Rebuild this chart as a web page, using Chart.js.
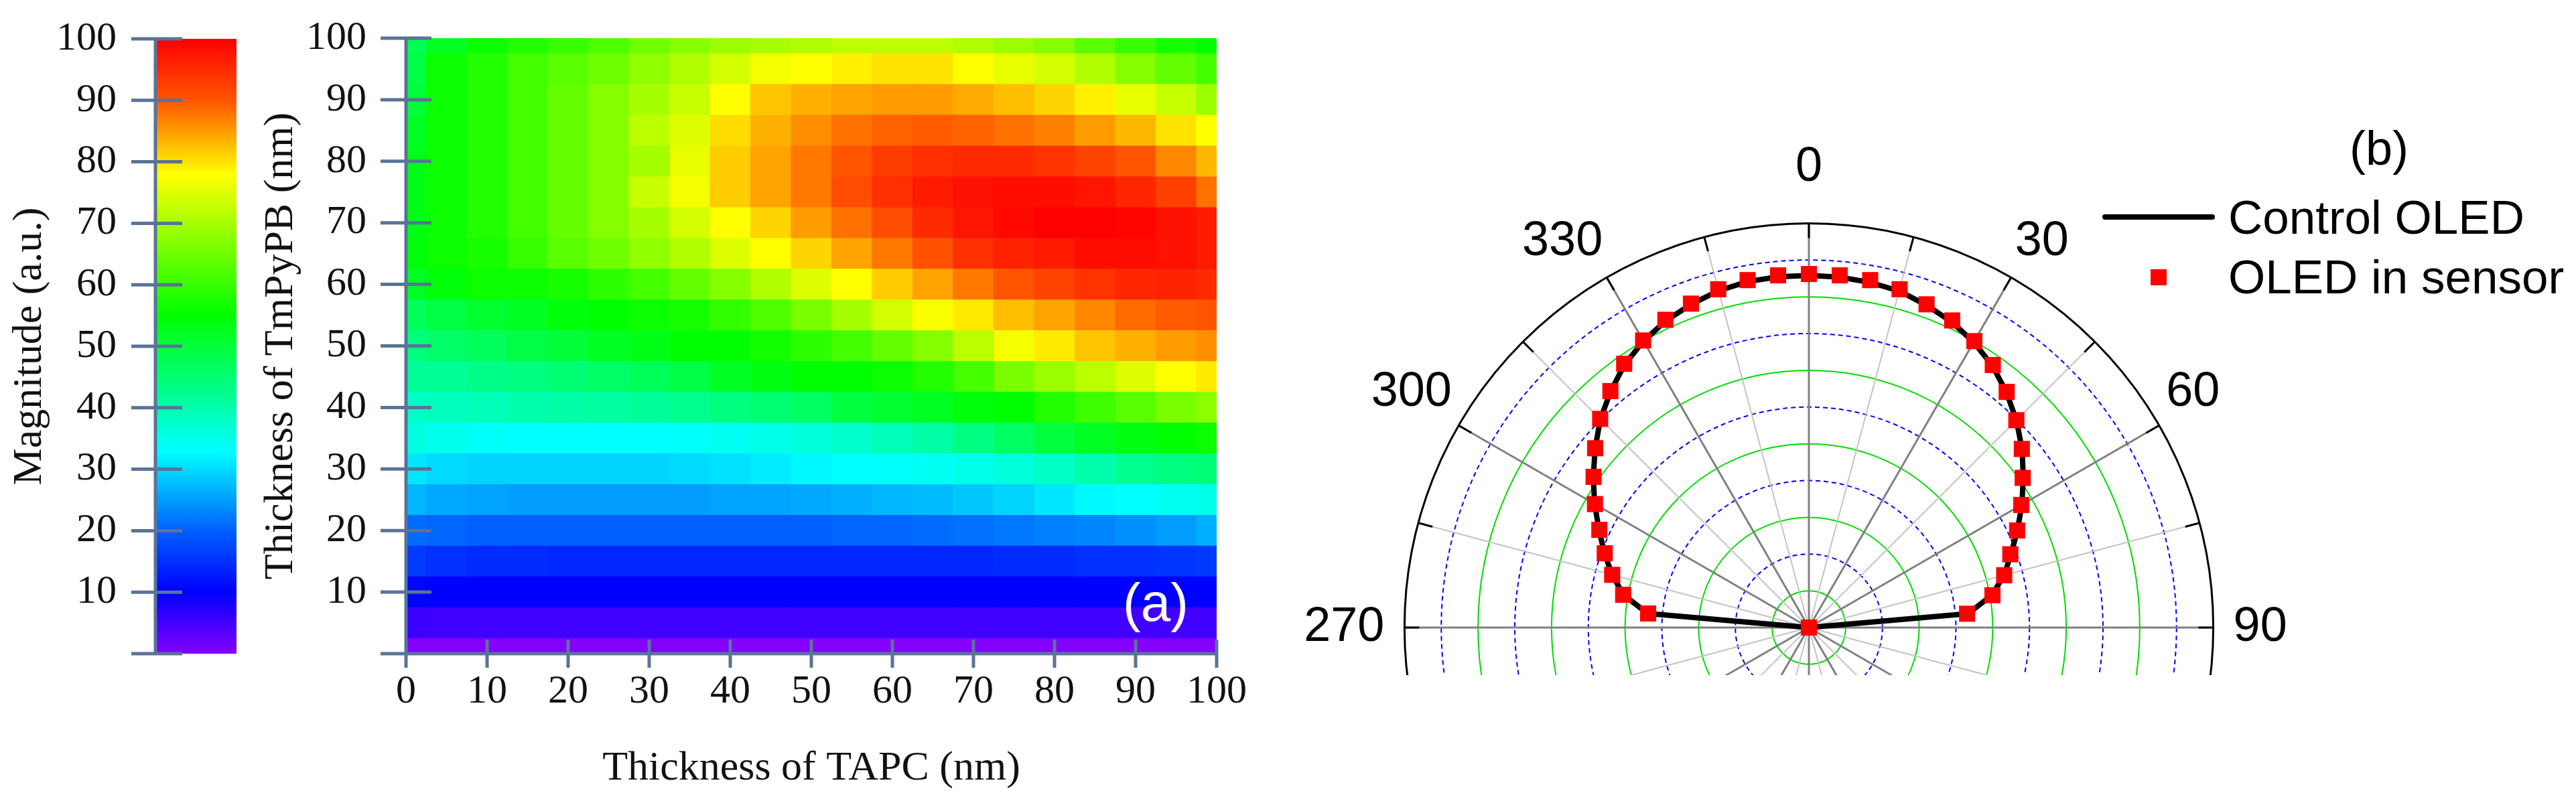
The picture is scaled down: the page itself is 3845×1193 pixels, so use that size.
<!DOCTYPE html>
<html lang="en">
<head>
<meta charset="utf-8">
<title>OLED thickness map and angular emission</title>
<script src="https://cdn.jsdelivr.net/npm/chart.js@4.4.1/dist/chart.umd.min.js"></script>
<style>
    html, body { margin: 0; padding: 0; background: #ffffff; }
    body { position: relative; width: 3845px; height: 1193px; overflow: hidden; }
    .abs { position: absolute; }
    .label { font-family: 'Liberation Sans', Arial, sans-serif; font-size: 71px; line-height: 80px; color: #000; white-space: nowrap; }
</style>
</head>
<body>
<canvas id="colorbar" class="abs" width="400" height="1193" style="left:0;top:0"></canvas>
<canvas id="heatmap" class="abs" width="1560" height="1193" style="left:340px;top:0"></canvas>
<div class="abs label" style="left:1676px;top:852px;font-size:80px;line-height:96px;color:#ffffff">(a)</div>
<div class="abs" style="left:1805px;top:0;width:1790px;height:1008px;overflow:hidden">
    <canvas id="polar" class="abs" width="1790" height="1460" style="left:0;top:208px"></canvas>
</div>
<div class="abs label" style="left:3507px;top:181px;font-size:72px">(b)</div>
<div class="abs" style="left:3138px;top:320px;width:168px;height:8px;border-radius:4px;background:#000000"></div>
<div class="abs label" style="left:3326px;top:285px">Control OLED</div>
<div class="abs" style="left:3210px;top:402px;width:24px;height:24px;background:#ff0000"></div>
<div class="abs label" style="left:3326px;top:374px">OLED in sensor</div>
<script>
// Fuentes y color de ejes usados en las dos figuras.
const SERIF = "'Liberation Serif', 'Times New Roman', serif";
const SANS = "'Liberation Sans', Arial, sans-serif";
const AXIS_COLOR = '#5a7396';

// Panel (a): thickness of each layer (nm), one cell every 5 nm.
const TAPC = [0, 5, 10, 15, 20, 25, 30, 35, 40, 45, 50, 55, 60, 65, 70, 75, 80, 85, 90, 95, 100];
// Rows from the top of the map to the bottom.
const TMPYPB = [100, 95, 90, 85, 80, 75, 70, 65, 60, 55, 50, 45, 40, 35, 30, 25, 20, 15, 10, 5, 0];
// Magnitude (a.u.), one row per TMPYPB value, one column per TAPC value.
const MAGNITUDE = [
    [48, 52, 56, 58, 60, 62, 65, 67, 69, 70, 71, 72, 72, 72, 71, 69, 67, 63, 60, 57, 55],
    [49, 56, 58, 61, 63, 65, 68, 71, 74, 77, 78, 79, 80, 80, 78, 76, 74, 71, 67, 64, 61],
    [50, 56, 58, 61, 64, 67, 70, 73, 78, 82, 83.5, 84.5, 85, 85, 84, 82.5, 81, 79, 76, 73, 69],
    [52, 56, 58, 61, 64, 67, 72, 75, 80.5, 83.5, 86, 88, 89, 89.5, 89, 88, 87, 85, 83, 80, 78],
    [53, 56, 58, 61, 64, 67, 70, 76, 81.5, 84.5, 87.5, 90, 93, 94.5, 95, 95, 94, 92, 90, 86.5, 83],
    [53, 56, 58, 61, 64, 67, 73, 77, 81.5, 84.5, 87.5, 91, 94.5, 97, 98, 98.5, 98.5, 97.5, 95.5, 92.5, 88],
    [53, 56, 58, 61, 64, 67, 70, 74, 78, 81, 85, 88, 91, 95, 97.5, 99, 100, 100, 99.5, 98, 97],
    [54, 56, 57, 60, 63, 65, 68, 71, 75, 78, 81, 84.5, 87.5, 90.5, 94.5, 96, 97, 98.5, 98.5, 98, 97],
    [52, 54, 56, 56, 57, 59, 61, 64, 67, 71, 75, 78, 81.5, 84.5, 87.5, 90, 92, 94, 95.5, 96, 95],
    [47, 49, 51, 52, 54, 55, 56, 57, 59.5, 62, 66, 70, 74, 77.5, 79.5, 82.5, 84.5, 86.5, 88.5, 89.5, 90],
    [44, 46, 47, 49, 50, 52, 53, 55, 55, 56.5, 59, 61, 64, 67, 72, 77, 79.5, 82, 83.5, 85, 86],
    [41.5, 42, 43, 44, 45, 46, 47.5, 49, 52, 53.5, 55, 55, 56, 58, 61, 66, 69, 72, 75, 78, 79.5],
    [38, 38.5, 39, 40, 40.5, 41, 41.5, 42.5, 44, 45, 46.5, 49.5, 51, 52, 54, 55, 58, 60.5, 63, 66, 67.5],
    [35.5, 34.5, 33.5, 33, 33, 33, 33, 33.5, 34, 35, 36, 37.5, 39, 40.5, 43.5, 46.5, 49.5, 52, 53.5, 55, 56],
    [31, 30, 29.5, 29.5, 29.5, 29.5, 29.5, 30, 30.5, 31.5, 32.5, 33, 33.5, 34, 35, 36, 38, 40, 42.5, 44, 44.5],
    [27, 26, 25.5, 25, 25, 25, 25, 25, 25.5, 25.5, 26, 26.5, 27, 27.5, 28.5, 29.5, 31, 32.5, 33, 34, 35],
    [21, 20.5, 20, 20, 20, 20, 20, 20, 20, 20, 20, 20.5, 20.5, 21, 21.5, 22, 22.5, 23, 24, 25, 26.5],
    [16, 15, 14.5, 14.5, 14, 14, 14, 14, 14, 14, 14, 14, 14, 14, 14, 14.5, 14.5, 15, 15, 15.5, 16],
    [10.5, 10, 10, 10, 10, 10, 10, 10, 10, 10, 10, 10, 10, 10, 10, 10, 10, 10, 10, 10, 10],
    [5.5, 5, 5, 5, 5, 5, 5, 5, 5, 5, 5, 5, 5, 5, 5, 5, 5, 5, 5, 5, 5],
    [0, 0, 0, 0, 0, 0, 0, 0, 0, 0, 0, 0, 0, 0, 0, 0, 0, 0, 0, 0, 0]
];
// Tick values shared by every axis of panel (a) and by the colour bar.
const AXIS_TICKS = [0, 10, 20, 30, 40, 50, 60, 70, 80, 90, 100];

// Panel (b): emission angle (degrees), intensity on the radial axis, null where there is no curve.
const ANGLES = [0, 5, 10, 15, 20, 25, 30, 35, 40, 45, 50, 55, 60, 65, 70, 75, 80, 85,
    90, 95, 100, 105, 110, 115, 120, 125, 130, 135, 140, 145, 150, 155, 160, 165, 170, 175,
    180, 185, 190, 195, 200, 205, 210, 215, 220, 225, 230, 235, 240, 245, 250, 255, 260, 265,
    270, 275, 280, 285, 290, 295, 300, 305, 310, 315, 320, 325, 330, 335, 340, 345, 350, 355];
const CONTROL_OLED = [95.8, 95.7, 95.4, 94.8, 93.4, 91.8, 89.7, 87.0, 83.6, 79.8, 75.7, 71.2, 66.9, 62.6, 58.5, 55.0, 50.5, 43.5,
    0, null, null, null, null, null, null, null, null, null, null, null, null, null, null, null, null, null,
    null, null, null, null, null, null, null, null, null, null, null, null, null, null, null, null, null, null,
    0, 44.0, 51.2, 55.4, 59.2, 63.0, 67.3, 71.6, 75.9, 80.2, 83.9, 87.4, 90.0, 92.1, 93.6, 94.9, 95.6, 95.8];
const OLED_IN_SENSOR = [96.2, 96.2, 96.0, 95.3, 93.6, 92.2, 90.0, 87.2, 83.7, 79.8, 75.6, 71.0, 66.7, 62.5, 58.3, 55.0, 50.7, 43.2,
    0, null, null, null, null, null, null, null, null, null, null, null, null, null, null, null, null, null,
    null, null, null, null, null, null, null, null, null, null, null, null, null, null, null, null, null, null,
    0, 43.9, 51.3, 55.4, 59.1, 62.9, 67.2, 71.5, 75.9, 80.3, 84.0, 87.6, 90.2, 92.4, 93.8, 95.3, 96.0, 96.2];

// Escala de color del mapa: valores de corte y su color RGB.
const CMAP_STOPS = [0, 10, 20, 33, 41, 55, 78, 90, 100];
const CMAP_COLORS = [[132, 0, 255], [0, 0, 255], [0, 96, 255], [0, 255, 255], [0, 255, 160],
    [0, 255, 0], [255, 255, 0], [255, 85, 0], [255, 0, 0]];

Chart.defaults.color = '#000000';

/*
*   Color for a magnitude value, interpolated in the colour scale.
*/
const colorFor = (value) => {
    let i = 1;
    while (i < CMAP_STOPS.length - 1 && value > CMAP_STOPS[i]) i++;
    const t = Math.min(1, Math.max(0, (value - CMAP_STOPS[i - 1]) / (CMAP_STOPS[i] - CMAP_STOPS[i - 1])));
    const a = CMAP_COLORS[i - 1];
    const b = CMAP_COLORS[i];
    return `rgb(${a.map((c, k) => Math.round(c + (b[k] - c) * t)).join(', ')})`;
}

/*
*   Plugin that draws the axis lines of panel (a) with ticks crossing them.
*   Options: yOut / yIn (tick length on each side of the left axis), xOut / xIn (same for the bottom axis).
*/
const crossTicks = {
    id: 'crossTicks',
    afterDatasetsDraw(chart, args, opts) {
        const { ctx, chartArea: area, scales } = chart;
        ctx.save();
        ctx.strokeStyle = AXIS_COLOR;
        ctx.lineWidth = 5;
        ctx.beginPath();
        ctx.moveTo(area.left, area.top);
        ctx.lineTo(area.left, area.bottom + (opts.xOut || 0));
        scales.y.ticks.forEach((tick) => {
            const py = scales.y.getPixelForValue(tick.value);
            ctx.moveTo(area.left - opts.yOut, py);
            ctx.lineTo(area.left + opts.yIn, py);
        });
        if (opts.xOut) {
            ctx.moveTo(area.left, area.bottom);
            ctx.lineTo(area.right, area.bottom);
            scales.x.ticks.forEach((tick) => {
                const px = scales.x.getPixelForValue(tick.value);
                ctx.moveTo(px, area.bottom - opts.xIn);
                ctx.lineTo(px, area.bottom + opts.xOut);
            });
        }
        ctx.stroke();
        ctx.restore();
    }
};

/*
*   Plugin that draws the short black ticks inside the outer circle of panel (b), every 15 degrees.
*/
const outerTicks = {
    id: 'outerTicks',
    beforeDatasetsDraw(chart) {
        const scale = chart.scales.r;
        const ctx = chart.ctx;
        ctx.save();
        ctx.strokeStyle = '#000000';
        ctx.lineWidth = 3;
        ctx.beginPath();
        chart.data.labels.forEach((label, i) => {
            if (Number(label) % 15 !== 0) return;
            const outer = scale.getPointPosition(i, scale.drawingArea);
            const inner = scale.getPointPosition(i, scale.drawingArea - 22);
            ctx.moveTo(outer.x, outer.y);
            ctx.lineTo(inner.x, inner.y);
        });
        ctx.stroke();
        ctx.restore();
    }
};

// Se fijan los ticks de un eje a los valores de AXIS_TICKS.
const fixedTicks = (scale) => { scale.ticks = AXIS_TICKS.map((v) => ({ value: v })); };

// Celdas del mapa: una barra flotante por celda, centrada en su espesor.
const rowStep = Math.abs(TMPYPB[0] - TMPYPB[1]);
const cells = [];
const cellColors = [];
TMPYPB.forEach((y, r) => {
    TAPC.forEach((x, c) => {
        cells.push({ x: x, y: [y - rowStep / 2, y + rowStep / 2] });
        cellColors.push(colorFor(MAGNITUDE[r][c]));
    });
});

/*
*   Gradient of the colour bar, built from the y scale once the chart is laid out.
*/
const colorbarFill = (context) => {
    const chart = context.chart;
    const y = chart.scales.y;
    if (!chart.chartArea || !y) return 'transparent';
    const lo = y.getPixelForValue(AXIS_TICKS[0]);
    const hi = y.getPixelForValue(AXIS_TICKS[AXIS_TICKS.length - 1]);
    if (!isFinite(lo) || !isFinite(hi) || lo === hi) return 'transparent';
    const gradient = chart.ctx.createLinearGradient(0, lo, 0, hi);
    CMAP_STOPS.forEach((s, i) => gradient.addColorStop(s / 100, `rgb(${CMAP_COLORS[i].join(', ')})`));
    return gradient;
}

/*
*   Distance between the outer circle and each angle label of panel (b).
*/
const labelPadding = (context) => {
    const a = Number(ANGLES[context.index]);
    if (a === 90 || a === 270) return 30;
    return a % 90 === 0 ? 40 : 12;
}

/*
*   Colour bar: one floating bar filled with the colour scale.
*/
new Chart(document.getElementById('colorbar'), {
    type: 'bar',
    data: {
        labels: [''],
        datasets: [{
            data: [[AXIS_TICKS[0], AXIS_TICKS[AXIS_TICKS.length - 1]]],
            backgroundColor: colorbarFill,
            borderWidth: 0,
            barPercentage: 1,
            categoryPercentage: 1
        }]
    },
    options: {
        responsive: false,
        animation: false,
        events: [],
        layout: { padding: { left: 0, top: 45, right: 47, bottom: 217 } },
        plugins: {
            legend: { display: false },
            tooltip: { enabled: false },
            crossTicks: { yOut: 36, yIn: 40 }
        },
        scales: {
            x: { display: false },
            y: {
                min: 0,
                max: 100,
                afterBuildTicks: fixedTicks,
                afterFit: (scale) => { scale.width = 232; },
                grid: { display: false, drawTicks: true, tickLength: 36 },
                border: { display: false },
                ticks: {
                    padding: 22,
                    color: '#111111',
                    font: { family: SERIF, size: 60 },
                    callback: (value) => (value === 0 ? '' : value)
                },
                title: {
                    display: true,
                    text: 'Magnitude (a.u.)',
                    color: '#111111',
                    font: { family: SERIF, size: 62, lineHeight: 1.2 },
                    padding: { top: 8, bottom: 0 }
                }
            }
        }
    },
    plugins: [crossTicks]
});

/*
*   Panel (a): magnitude map against the two layer thicknesses.
*/
new Chart(document.getElementById('heatmap'), {
    type: 'bar',
    data: {
        datasets: [{
            data: cells,
            backgroundColor: cellColors,
            borderWidth: 0,
            barPercentage: 1,
            categoryPercentage: 1,
            clip: 0
        }]
    },
    options: {
        responsive: false,
        animation: false,
        events: [],
        layout: { padding: { left: 0, top: 44, right: 84, bottom: 0 } },
        plugins: {
            legend: { display: false },
            tooltip: { enabled: false },
            crossTicks: { yOut: 38, yIn: 38, xOut: 21, xIn: 21 }
        },
        scales: {
            x: {
                type: 'linear',
                min: 0,
                max: 100,
                offset: false,
                afterBuildTicks: fixedTicks,
                afterFit: (scale) => { scale.height = 217; },
                grid: { display: false, drawTicks: true, tickLength: 21 },
                border: { display: false },
                ticks: {
                    padding: 0,
                    maxRotation: 0,
                    autoSkip: false,
                    color: '#111111',
                    font: { family: SERIF, size: 60 }
                },
                title: {
                    display: true,
                    text: 'Thickness of TAPC (nm)',
                    color: '#111111',
                    font: { family: SERIF, size: 62, lineHeight: 1.2 },
                    padding: { top: 0, bottom: 8 }
                }
            },
            y: {
                type: 'linear',
                min: 0,
                max: 100,
                afterBuildTicks: fixedTicks,
                afterFit: (scale) => { scale.width = 266; },
                grid: { display: false, drawTicks: true, tickLength: 38 },
                border: { display: false },
                ticks: {
                    padding: 21,
                    color: '#111111',
                    font: { family: SERIF, size: 60 },
                    callback: (value) => (value === 0 ? '' : value)
                },
                title: {
                    display: true,
                    text: 'Thickness of TmPyPB (nm)',
                    color: '#111111',
                    font: { family: SERIF, size: 62, lineHeight: 1.2 },
                    padding: { top: 43, bottom: 0 }
                }
            }
        }
    },
    plugins: [crossTicks]
});

/*
*   Panel (b): angular emission on a polar grid (0 degrees at the top, clockwise).
*/
new Chart(document.getElementById('polar'), {
    type: 'radar',
    data: {
        labels: ANGLES,
        datasets: [{
            label: 'OLED in sensor',
            data: OLED_IN_SENSOR,
            order: 0,
            showLine: false,
            fill: false,
            pointStyle: 'rect',
            pointRadius: 17,
            pointBorderWidth: 0,
            pointBackgroundColor: '#ff0000',
            borderColor: '#ff0000',
            backgroundColor: '#ff0000'
        }, {
            label: 'Control OLED',
            data: CONTROL_OLED,
            order: 1,
            fill: false,
            spanGaps: false,
            tension: 0,
            borderWidth: 8,
            borderColor: '#000000',
            backgroundColor: 'transparent',
            borderJoinStyle: 'round',
            pointRadius: 0
        }]
    },
    options: {
        responsive: false,
        animation: false,
        events: [],
        plugins: {
            legend: { display: false },
            tooltip: { enabled: false }
        },
        scales: {
            r: {
                min: 0,
                max: 110,
                ticks: { display: false, stepSize: 10 },
                grid: {
                    circular: true,
                    color: (context) => {
                        const v = context.tick.value;
                        if (v >= 110) return '#000000';
                        return (v / 10) % 2 ? '#00dd00' : '#0000ff';
                    },
                    lineWidth: (context) => (context.tick.value >= 110 ? 3 : 2)
                },
                border: {
                    dash: (context) => {
                        const v = context.tick ? context.tick.value : 0;
                        return v < 110 && (v / 10) % 2 === 0 ? [7, 5] : [];
                    }
                },
                angleLines: {
                    color: (context) => {
                        const a = Number(ANGLES[context.index]);
                        if (a % 30 === 0) return '#808080';
                        return a % 15 === 0 ? '#c4c4c4' : null;
                    },
                    lineWidth: (context) => {
                        const a = Number(ANGLES[context.index]);
                        if (a % 30 === 0) return 3;
                        return a % 15 === 0 ? 2 : 0;
                    }
                },
                pointLabels: {
                    padding: labelPadding,
                    color: '#000000',
                    font: { family: SANS, size: 72 },
                    callback: (label) => (Number(label) % 30 === 0 ? String(label) : '')
                }
            }
        }
    },
    plugins: [outerTicks]
});
</script>
</body>
</html>
